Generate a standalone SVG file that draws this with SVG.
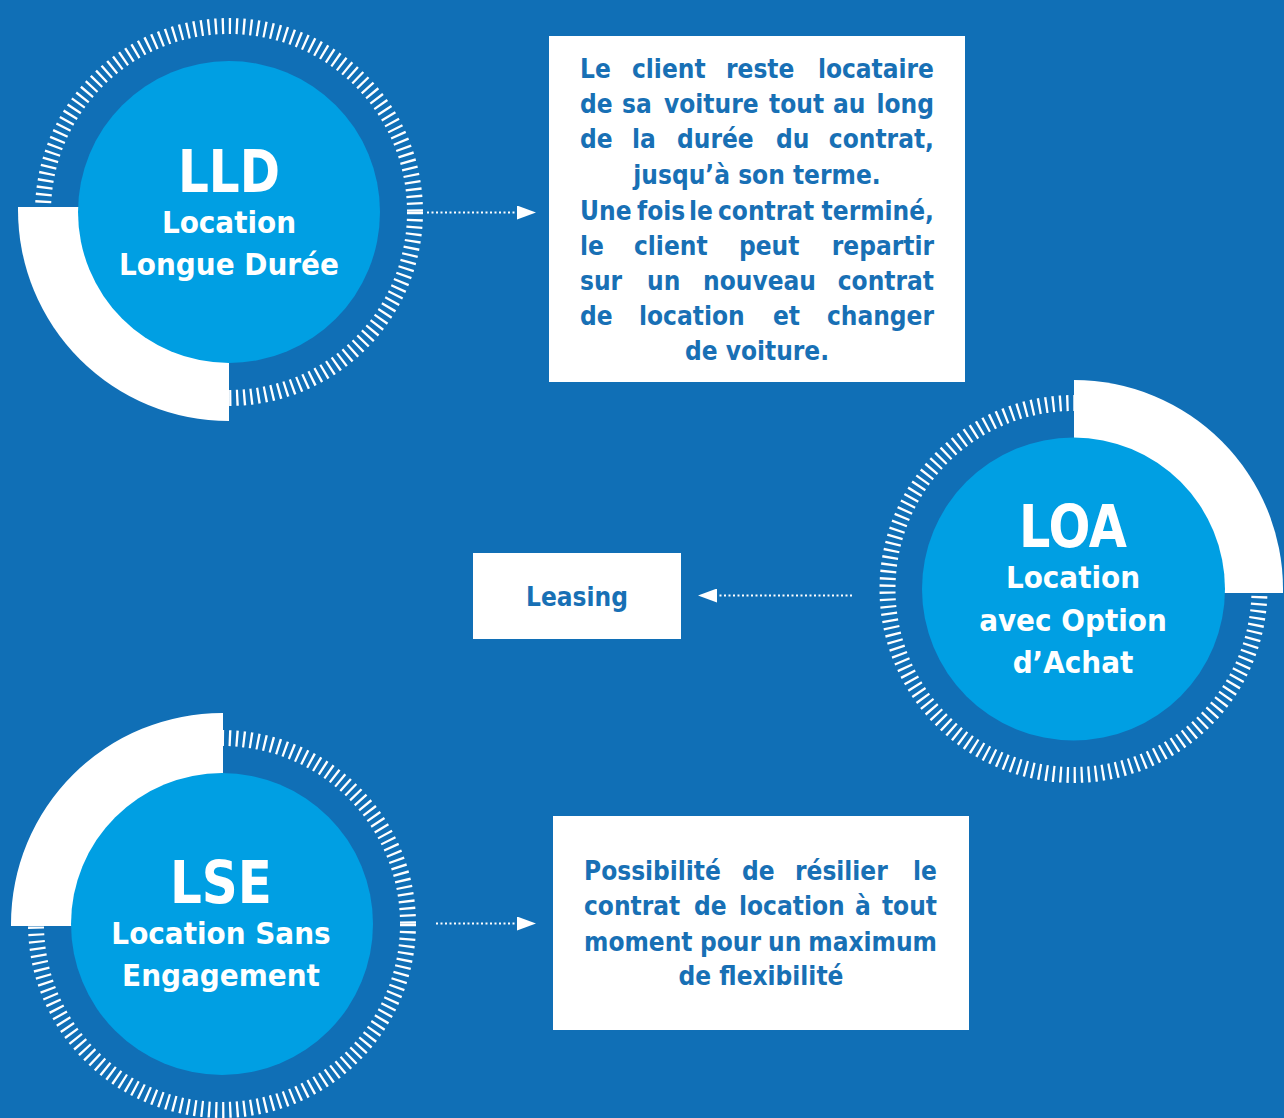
<svg xmlns="http://www.w3.org/2000/svg" width="1284" height="1118" viewBox="0 0 1284 1118">
<defs>
<style>
.bg{fill:#106fb6}
.ticks{fill:none;stroke:#ffffff;stroke-width:16;stroke-dasharray:2.3 4.764}
.seg{fill:#ffffff}
.disc{fill:#009fe3}
.big{font-family:"DejaVu Sans Condensed","Liberation Sans",Arial,sans-serif;font-weight:bold;fill:#ffffff;text-anchor:middle;font-size:59px}
.lab{font-family:"DejaVu Sans Condensed","Liberation Sans",Arial,sans-serif;font-weight:bold;fill:#ffffff;text-anchor:middle;font-size:31px}
.box{fill:#ffffff}
.body{font-family:"DejaVu Sans Condensed","Liberation Sans",Arial,sans-serif;font-weight:bold;fill:#1870b5;font-size:26px}
.conn{fill:none;stroke:#ffffff;stroke-width:2;stroke-dasharray:2 2.5}
</style>
<marker id="ah" markerWidth="19" markerHeight="14" refX="0" refY="7" orient="auto" markerUnits="userSpaceOnUse">
<path d="M0,0 L19,7 L0,14 Z" fill="#ffffff"/>
</marker>
</defs>
<rect class="bg" x="0" y="0" width="1284" height="1118"/>

<g id="node-lld">
<circle class="ticks" cx="229" cy="212" r="186"/>
<path class="seg" d="M229 207 L18 207 L18 210 A211 211 0 0 0 229 421 Z"/>
<circle class="disc" cx="229" cy="212" r="151"/>
<text class="big" x="229" y="192" textLength="102" lengthAdjust="spacingAndGlyphs">LLD</text>
<text class="lab" x="229" y="233">Location</text>
<text class="lab" x="229" y="275">Longue Durée</text>
</g>

<g id="node-loa">
<circle class="ticks" cx="1073.5" cy="589" r="186"/>
<path class="seg" d="M1074 593 L1074 380 A209 209 0 0 1 1283 589 L1283 593 Z"/>
<circle class="disc" cx="1073.5" cy="589" r="151.5"/>
<text class="big" x="1073" y="547" textLength="108" lengthAdjust="spacingAndGlyphs">LOA</text>
<text class="lab" x="1073" y="588">Location</text>
<text class="lab" x="1073" y="631">avec Option</text>
<text class="lab" x="1073" y="673">d’Achat</text>
</g>

<g id="node-lse">
<circle class="ticks" cx="222" cy="924" r="186"/>
<path class="seg" d="M223 926 L11 926 L11 924 A211 211 0 0 1 223 713 Z"/>
<circle class="disc" cx="222" cy="924" r="151"/>
<text class="big" x="221" y="903" textLength="102" lengthAdjust="spacingAndGlyphs">LSE</text>
<text class="lab" x="221" y="944">Location Sans</text>
<text class="lab" x="221" y="986">Engagement</text>
</g>

<g id="box-lld">
<rect class="box" x="549" y="36" width="416" height="346"/>
<text class="body" y="78"><tspan x="580">Le</tspan><tspan x="632">client</tspan><tspan x="726">reste</tspan><tspan x="934" text-anchor="end">locataire</tspan></text>
<text class="body" y="113"><tspan x="580">de</tspan><tspan x="622">sa</tspan><tspan x="664">voiture</tspan><tspan x="769">tout</tspan><tspan x="833">au</tspan><tspan x="934" text-anchor="end">long</tspan></text>
<text class="body" y="148"><tspan x="580">de</tspan><tspan x="632">la</tspan><tspan x="677">durée</tspan><tspan x="776">du</tspan><tspan x="934" text-anchor="end">contrat,</tspan></text>
<text class="body" y="184" x="757" text-anchor="middle">jusqu’à son terme.</text>
<text class="body" y="220"><tspan x="580">Une</tspan><tspan x="637">fois</tspan><tspan x="689">le</tspan><tspan x="718">contrat</tspan><tspan x="934" text-anchor="end">terminé,</tspan></text>
<text class="body" y="255"><tspan x="580">le</tspan><tspan x="634">client</tspan><tspan x="739">peut</tspan><tspan x="934" text-anchor="end">repartir</tspan></text>
<text class="body" y="290"><tspan x="580">sur</tspan><tspan x="647">un</tspan><tspan x="703">nouveau</tspan><tspan x="934" text-anchor="end">contrat</tspan></text>
<text class="body" y="325"><tspan x="580">de</tspan><tspan x="639">location</tspan><tspan x="773">et</tspan><tspan x="934" text-anchor="end">changer</tspan></text>
<text class="body" y="360" x="757" text-anchor="middle">de voiture.</text>
</g>

<g id="box-leasing">
<rect class="box" x="473" y="553" width="208" height="86"/>
<text class="body" x="577" y="606" text-anchor="middle">Leasing</text>
</g>

<g id="box-lse">
<rect class="box" x="553" y="816" width="416" height="214"/>
<text class="body" y="880"><tspan x="584">Possibilité</tspan><tspan x="742">de</tspan><tspan x="795">résilier</tspan><tspan x="937" text-anchor="end">le</tspan></text>
<text class="body" y="915"><tspan x="584">contrat</tspan><tspan x="694">de</tspan><tspan x="739">location</tspan><tspan x="855">à</tspan><tspan x="937" text-anchor="end">tout</tspan></text>
<text class="body" y="951"><tspan x="584">moment</tspan><tspan x="700">pour</tspan><tspan x="768">un</tspan><tspan x="937" text-anchor="end">maximum</tspan></text>
<text class="body" y="985" x="761" text-anchor="middle">de flexibilité</text>
</g>

<g id="connectors">
<line class="conn" x1="427" y1="212.5" x2="517" y2="212.5" marker-end="url(#ah)"/>
<line class="conn" x1="852" y1="595.5" x2="717" y2="595.5" marker-end="url(#ah)"/>
<line class="conn" x1="436" y1="923.5" x2="517" y2="923.5" marker-end="url(#ah)"/>
</g>
</svg>
